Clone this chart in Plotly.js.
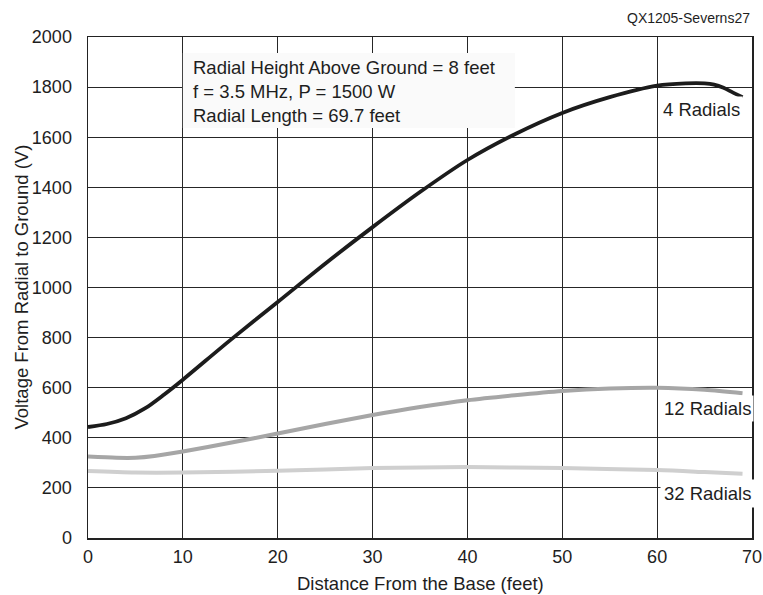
<!DOCTYPE html>
<html>
<head>
<meta charset="utf-8">
<script src="https://cdn.plot.ly/plotly-3.0.1.min.js"></script>
<style>html,body{margin:0;padding:0;background:#fff;}#chart{width:763px;height:595px;}</style>
</head>
<body>
<div id="chart"></div>
<script>
// Distance from the base (feet) and voltage (V) per series
var x4  = [0, 2, 4, 6, 8, 10, 15, 20, 25, 30, 35, 40, 45, 50, 55, 60, 63, 65, 66, 67, 68, 69];
var v4  = [443, 455, 478, 517, 572, 632, 790, 942, 1095, 1241, 1381, 1509, 1612, 1697, 1760, 1806, 1815, 1815, 1810, 1797, 1778, 1760];
var x12 = [0, 3, 5, 7, 10, 15, 20, 25, 30, 35, 40, 45, 50, 55, 60, 65, 69];
var v12 = [325, 320, 320, 327, 345, 380, 417, 455, 491, 523, 550, 570, 587, 597, 600, 592, 578];
var x32 = [0, 5, 10, 20, 30, 40, 50, 60, 65, 69];
var v32 = [267, 261, 261, 268, 279, 283, 279, 271, 263, 256];

var seriesNames = ["4 Radials", "12 Radials", "32 Radials"];
var infoLines = ["Radial Height Above Ground = 8 feet", "f = 3.5 MHz, P = 1500 W", "Radial Length = 69.7 feet"];
var figId = "QX1205-Severns27";
var xTitle = "Distance From the Base (feet)";
var yTitle = "Voltage From Radial to Ground (V)";

var FONT = "Liberation Sans, Arial, sans-serif";
var FS = 18.5;
var TFS = 18;
var TXT = "#1e1e1e";

var traces = [
  {x: x4, y: v4, name: seriesNames[0], mode: "lines", line: {color: "#1c1c1c", width: 3.8, shape: "spline", smoothing: 0.8}},
  {x: x12, y: v12, name: seriesNames[1], mode: "lines", line: {color: "#a6a6a6", width: 4, shape: "spline", smoothing: 0.8}},
  {x: x32, y: v32, name: seriesNames[2], mode: "lines", line: {color: "#cfcfcf", width: 4, shape: "spline", smoothing: 0.8}}
];

var layout = {
  width: 763, height: 595,
  margin: {l: 88, r: 11, t: 37, b: 57, pad: 0},
  paper_bgcolor: "#fff", plot_bgcolor: "#fff",
  showlegend: false,
  font: {family: FONT, color: TXT, size: FS},
  xaxis: {
    range: [0, 70], dtick: 10, tick0: 0,
    showgrid: true, gridcolor: "#262626", gridwidth: 1,
    showline: true, linecolor: "#222", linewidth: 1.5, mirror: true,
    zeroline: false, ticks: "", ticklabelstandoff: 2,
    tickfont: {size: TFS, family: FONT, color: TXT}
  },
  yaxis: {
    range: [0, 2000], dtick: 200, tick0: 0,
    showgrid: true, gridcolor: "#262626", gridwidth: 1,
    showline: true, linecolor: "#222", linewidth: 1.5, mirror: true,
    zeroline: false, ticks: "", ticklabelstandoff: 11,
    tickfont: {size: TFS, family: FONT, color: TXT}
  },
  shapes: [
    {type: "rect", xref: "x", yref: "y", x0: 10, x1: 45, y0: 1637, y1: 1936,
     fillcolor: "#fafafa", line: {width: 0}, layer: "between"}
  ],
  annotations: [
    {xref: "x", yref: "y", x: 10.85, y: 1782, xanchor: "left", yanchor: "middle", align: "left",
     showarrow: false, text: infoLines.join("<br>"), font: {size: FS, family: FONT, color: TXT}},
    {xref: "x", yref: "y", x: 60.3, y: 1710, xanchor: "left", yanchor: "middle",
     showarrow: false, text: seriesNames[0], bgcolor: "#fff", borderpad: 2, font: {size: FS, family: FONT, color: TXT}},
    {xref: "x", yref: "y", x: 60.4, y: 515, xanchor: "left", yanchor: "middle",
     showarrow: false, text: seriesNames[1], bgcolor: "#fff", borderpad: 2, font: {size: FS, family: FONT, color: TXT}},
    {xref: "x", yref: "y", x: 60.35, y: 176, xanchor: "left", yanchor: "middle",
     showarrow: false, text: seriesNames[2], bgcolor: "#fff", borderpad: 3, font: {size: FS, family: FONT, color: TXT}},
    {xref: "paper", yref: "paper", x: 0.5, y: 0, yshift: -45, xanchor: "center", yanchor: "middle",
     showarrow: false, text: xTitle, font: {size: FS, family: FONT, color: TXT}},
    {xref: "paper", yref: "paper", x: 0, y: 0.5, xshift: -67, xanchor: "center", yanchor: "middle", textangle: -90,
     showarrow: false, text: yTitle, font: {size: FS, family: FONT, color: TXT}},
    {xref: "paper", yref: "paper", x: 1, y: 1, yshift: 19.5, xanchor: "right", yanchor: "middle",
     showarrow: false, text: figId, font: {size: 14, family: FONT, color: TXT}}
  ]
};

Plotly.newPlot("chart", traces, layout, {displayModeBar: false, staticPlot: true});
</script>
</body>
</html>
